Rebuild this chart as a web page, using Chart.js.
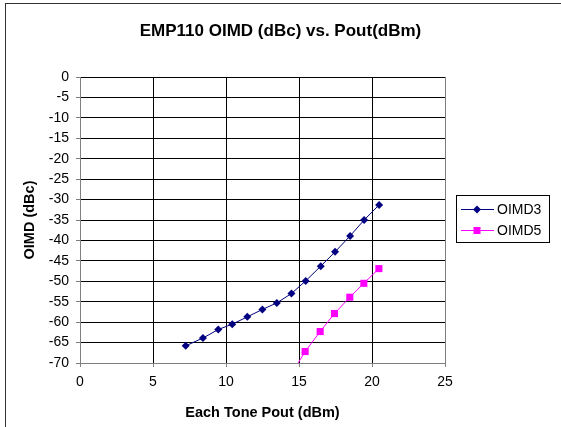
<!DOCTYPE html>
<html>
<head>
<meta charset="utf-8">
<script src="https://cdn.jsdelivr.net/npm/chart.js@4.4.0/dist/chart.umd.min.js"></script>
<style>
  html, body { margin: 0; padding: 0; background: #fff; }
  #wrap { width: 561px; height: 427px; }
</style>
</head>
<body>
<div id="wrap"><canvas id="chart" width="561" height="427"></canvas></div>
<script>
// values
const oimd3Pout = [7.24, 8.42, 9.47, 10.43, 11.46, 12.49, 13.48, 14.48, 15.46, 16.49, 17.47, 18.5, 19.46, 20.49];
const oimd3Dbc = [-65.8, -63.9, -61.8, -60.5, -58.7, -56.9, -55.3, -53.0, -49.9, -46.3, -42.8, -38.9, -35.0, -31.3];
const oimd5Pout = [14.42, 15.42, 16.45, 17.43, 18.48, 19.44, 20.47];
const oimd5Dbc = [-73.0, -67.2, -62.3, -57.9, -53.9, -50.5, -46.9];
const xTicks = [0, 5, 10, 15, 20, 25];
const yTicks = [0, -5, -10, -15, -20, -25, -30, -35, -40, -45, -50, -55, -60, -65, -70];

const FONT = "'Liberation Sans', Arial, sans-serif";
const toPoints = (xs, ys) => xs.map((x, i) => ({ x: x, y: ys[i] }));

// white page + outer frame
const frame = {
  id: 'frame',
  beforeDraw(chart) {
    const ctx = chart.ctx;
    ctx.save();
    ctx.fillStyle = '#fff';
    ctx.fillRect(0, 0, chart.width, chart.height);
    ctx.strokeStyle = '#333';
    ctx.lineWidth = 1;
    ctx.strokeRect(5.5, 3.5, chart.width + 10, chart.height + 10);
    ctx.restore();
  }
};

// excel-ish legend: box, line with marker through it
const sideLegend = {
  id: 'sideLegend',
  afterDraw(chart) {
    const ctx = chart.ctx;
    ctx.save();
    ctx.strokeStyle = '#000';
    ctx.lineWidth = 1;
    ctx.strokeRect(456.5, 195.5, 93, 47);
    ctx.font = '14px ' + FONT;
    ctx.textBaseline = 'middle';
    ctx.textAlign = 'left';
    chart.data.datasets.forEach((ds, i) => {
      const y = 209.5 + i * 21;
      ctx.strokeStyle = ds.borderColor;
      ctx.beginPath();
      ctx.moveTo(461, y);
      ctx.lineTo(494, y);
      ctx.stroke();
      ctx.fillStyle = ds.pointBackgroundColor;
      ctx.beginPath();
      if (ds.pointStyle === 'rectRot') {
        ctx.moveTo(477, y - 4); ctx.lineTo(481, y); ctx.lineTo(477, y + 4); ctx.lineTo(473, y);
      } else {
        ctx.rect(473.5, y - 3.5, 7, 7);
      }
      ctx.fill();
      ctx.fillStyle = '#000';
      ctx.fillText(ds.label, 497, y + 0.5);
    });
    ctx.restore();
  }
};

new Chart(document.getElementById('chart'), {
  type: 'scatter',
  data: {
    datasets: [{
      label: 'OIMD3',
      data: toPoints(oimd3Pout, oimd3Dbc),
      showLine: true,
      borderColor: '#000080',
      backgroundColor: '#000080',
      pointBackgroundColor: '#000080',
      pointBorderColor: '#000080',
      borderWidth: 1,
      pointStyle: 'rectRot',
      pointRadius: 4,
      pointBorderWidth: 0
    }, {
      label: 'OIMD5',
      data: toPoints(oimd5Pout, oimd5Dbc),
      showLine: true,
      borderColor: '#FF00FF',
      backgroundColor: '#FF00FF',
      pointBackgroundColor: '#FF00FF',
      pointBorderColor: '#FF00FF',
      borderWidth: 1,
      pointStyle: 'rect',
      pointRadius: 5,
      pointBorderWidth: 0
    }]
  },
  options: {
    responsive: false,
    animation: false,
    layout: { padding: { left: 6, right: 6, top: 0, bottom: 0 } },
    plugins: {
      legend: { display: false },
      tooltip: { enabled: false },
      title: {
        display: true,
        text: 'EMP110 OIMD (dBc) vs. Pout(dBm)',
        color: '#000',
        font: { family: FONT, size: 17, weight: 'bold' },
        padding: { top: 20.8, bottom: 35.8 }
      }
    },
    scales: {
      x: {
        type: 'linear',
        min: 0, max: 25,
        afterFit: (s) => { s.height = 64; },
        afterBuildTicks: (s) => { s.ticks = xTicks.map((v) => ({ value: v })); },
        ticks: { color: '#000', padding: 7, font: { family: FONT, size: 14 } },
        grid: {
          color: (c) => (c.tick && c.tick.value === 25 ? '#808080' : '#000'),
          tickColor: '#808080',
          tickLength: 4
        },
        border: { color: '#808080' },
        title: {
          display: true,
          text: 'Each Tone Pout (dBm)',
          color: '#000',
          font: { family: FONT, size: 14.5, weight: 'bold' },
          padding: { top: 0, bottom: 5.3 }
        }
      },
      y: {
        type: 'linear',
        min: -70, max: 0,
        afterFit: (s) => { s.width = 74; },
        afterBuildTicks: (s) => { s.ticks = yTicks.map((v) => ({ value: v })); },
        ticks: { color: '#000', padding: 7, font: { family: FONT, size: 14 } },
        grid: { color: '#000', tickColor: '#808080', tickLength: 4 },
        border: { color: '#808080' },
        title: {
          display: true,
          text: 'OIMD (dBc)',
          color: '#000',
          font: { family: FONT, size: 14.5, weight: 'bold' },
          padding: { top: 15.3, bottom: 0 }
        }
      },
      // empty right-hand axis that only reserves room for the legend
      side: {
        type: 'linear',
        position: 'right',
        afterFit: (s) => { s.width = 110; },
        ticks: { display: false },
        grid: { display: false },
        border: { display: false }
      }
    }
  },
  plugins: [frame, sideLegend]
});
</script>
</body>
</html>
